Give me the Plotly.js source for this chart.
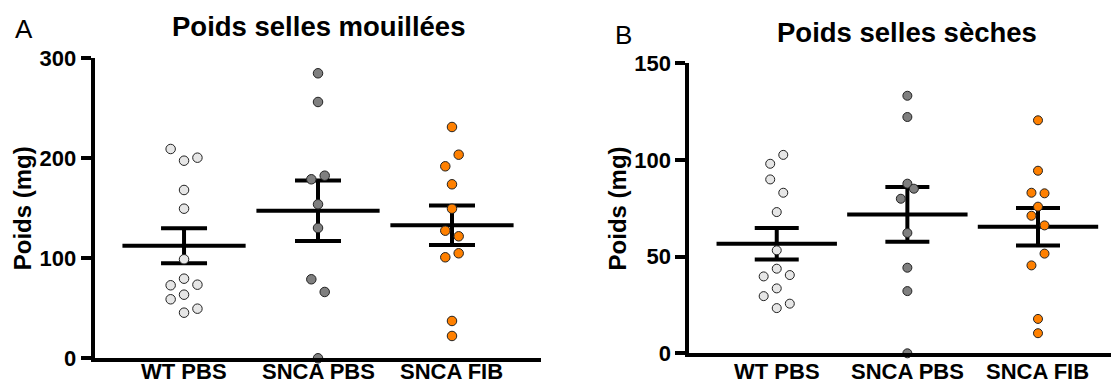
<!DOCTYPE html>
<html>
<head>
<meta charset="utf-8">
<script src="https://cdn.plot.ly/plotly-3.0.1.min.js"></script>
<style>html,body{margin:0;padding:0;background:#fff;}#chart{width:1111px;height:385px;}</style>
</head>
<body>
<div id="chart"></div>
<script>
// ---- data ----
const categories = ['WT PBS', 'SNCA PBS', 'SNCA FIB'];

// Panel A : Poids selles mouillées (mg)
const wetWT  = [209.3, 197.6, 200.6, 168.3, 149.6, 99.0, 79.6, 73.0, 73.6, 63.6, 59.0, 49.6, 45.6];
const wetPBS = [285.0, 256.3, 179.0, 182.6, 154.0, 130.3, 79.0, 66.3, 0];
const wetFIB = [231.3, 203.6, 192.0, 174.0, 149.6, 127.6, 122.0, 101.0, 105.0, 37.3, 22.3];
const wetMean = [112.6, 147.6, 133.0];
const wetSEM  = [17.5, 30.3, 19.8];

// Panel B : Poids selles sèches (mg)
const dryWT  = [102.7, 98.1, 90.0, 83.1, 73.1, 53.3, 43.8, 39.8, 40.5, 33.6, 29.6, 25.7, 23.4];
const dryPBS = [133.3, 122.3, 87.8, 85.2, 80.0, 62.3, 44.3, 32.2, 0];
const dryFIB = [120.6, 94.5, 83.1, 82.8, 75.9, 71.2, 66.2, 51.6, 45.5, 17.8, 10.4];
const dryMean = [56.7, 71.9, 65.5];
const drySEM  = [8.1, 14.15, 9.75];

const wetTicks = [0, 100, 200, 300];
const dryTicks = [0, 50, 100, 150];

// ---- layout-only helpers (horizontal scatter slots of the dot plot) ----
const slotWetWT  = [-2, 0, 2, 0, 0, 0, 0, -2, 2, 0, -2, 2, 0];
const slotWetPBS = [0, 0, -1, 1, 0, 0, -1, 1, 0];
const slotWetFIB = [0, 1, -1, 0, 0, -1, 1, -1, 1, 0, 0];
const slotDryWT  = [1, -1, -1, 1, 0, 0, 0, -2, 2, 0, -2, 2, 0];
const slotDryPBS = [0, 0, 0, 1, -1, 0, 0, 0, 0];
const slotDryFIB = [0, 0, -1, 1, 0, -1, 1, 1, -1, 0, 0];
const SLOT = 0.05;

const colors = ['#e6e6e6', '#7f7f7f', '#ff8000'];
const FONT = 'Liberation Sans, Arial, Helvetica, sans-serif';

function dots(vals, slots, idx, xa, ya, size) {
  return {
    type: 'scatter', mode: 'markers', xaxis: xa, yaxis: ya, cliponaxis: false,
    x: vals.map((v, i) => idx + slots[i] * SLOT), y: vals,
    marker: {size: size, color: colors[idx], line: {color: '#222222', width: 1}},
    hoverinfo: 'y', showlegend: false
  };
}
function meanSem(mean, sem, xa, ya, half, cap) {
  return {
    type: 'scatter', mode: 'markers', xaxis: xa, yaxis: ya, cliponaxis: false,
    x: [0, 1, 2], y: mean,
    marker: {symbol: 'line-ew', size: half * 2, color: '#000', line: {color: '#000', width: 4}},
    error_y: {type: 'data', array: sem, visible: true, color: '#000', thickness: 4, width: cap},
    showlegend: false, hoverinfo: 'y'
  };
}

const traces = [
  meanSem(wetMean, wetSEM, 'x', 'y', 44, 23),
  dots(wetWT, slotWetWT, 0, 'x', 'y', 9.5),
  dots(wetPBS, slotWetPBS, 1, 'x', 'y', 9.5),
  dots(wetFIB, slotWetFIB, 2, 'x', 'y', 9.5),
  meanSem(dryMean, drySEM, 'x2', 'y2', 43, 22),
  dots(dryWT, slotDryWT, 0, 'x2', 'y2', 9),
  dots(dryPBS, slotDryPBS, 1, 'x2', 'y2', 9),
  dots(dryFIB, slotDryFIB, 2, 'x2', 'y2', 9)
];

const tickFont = {family: FONT, size: 22, color: '#000', weight: 'bold'};
const titleFont = {family: FONT, size: 24, color: '#000', weight: 'bold'};

function xax(domain, range, anchor) {
  return {domain: domain, range: range, anchor: anchor, showgrid: false, zeroline: false,
    showline: true, linecolor: '#000', linewidth: 4, ticks: '', tickvals: [0, 1, 2],
    showticklabels: false, fixedrange: true};
}
function yax(domain, range, ticks, anchor) {
  return {domain: domain, range: range, anchor: anchor, showgrid: false, zeroline: false,
    showline: true, linecolor: '#000', linewidth: 4, ticks: 'outside', ticklen: 10, tickwidth: 4,
    tickcolor: '#000', tickvals: ticks, tickfont: tickFont, fixedrange: true,
    title: {text: 'Poids (mg)', font: titleFont, standoff: 2}};
}

// category labels under each x axis (drawn as text at the category positions)
function catLabels(xref) {
  return categories.map((c, i) => ({
    text: c, xref: xref, yref: 'paper', x: i, y: 0,
    xanchor: 'center', yanchor: 'bottom', borderpad: 0, showarrow: false, font: tickFont
  }));
}

const layout = {
  width: 1111, height: 385, margin: {l: 0, r: 0, t: 0, b: 0},
  paper_bgcolor: '#fff', plot_bgcolor: 'rgba(0,0,0,0)', showlegend: false,
  xaxis: xax([0.0851, 0.4869], [-0.668, 2.664], 'y'),
  yaxis: yax([0.0694, 0.8486], [0, 300], wetTicks, 'x'),
  xaxis2: xax([0.6206, 1.0], [-0.668, 2.559], 'y2'),
  yaxis2: yax([0.0823, 0.8351], [0, 150], dryTicks, 'x2'),
  annotations: [
    {text: 'Poids selles mouillées', xref: 'paper', yref: 'paper', x: 318 / 1111, y: 1 - 26.5 / 385,
     xanchor: 'center', yanchor: 'middle', showarrow: false, font: {family: FONT, size: 27.5, color: '#000', weight: 'bold'}},
    {text: 'Poids selles sèches', xref: 'paper', yref: 'paper', x: 907 / 1111, y: 1 - 32 / 385,
     xanchor: 'center', yanchor: 'middle', showarrow: false, font: {family: FONT, size: 27.5, color: '#000', weight: 'bold'}},
    {text: 'A', xref: 'paper', yref: 'paper', x: 23.7 / 1111, y: 1 - 29.3 / 385,
     xanchor: 'center', yanchor: 'middle', showarrow: false, font: {family: FONT, size: 26, color: '#000'}},
    {text: 'B', xref: 'paper', yref: 'paper', x: 623.3 / 1111, y: 1 - 35.5 / 385,
     xanchor: 'center', yanchor: 'middle', showarrow: false, font: {family: FONT, size: 26, color: '#000'}}
  ].concat(catLabels('x'), catLabels('x2'))
};

Plotly.newPlot('chart', traces, layout, {displayModeBar: false, staticPlot: true});
</script>
</body>
</html>
